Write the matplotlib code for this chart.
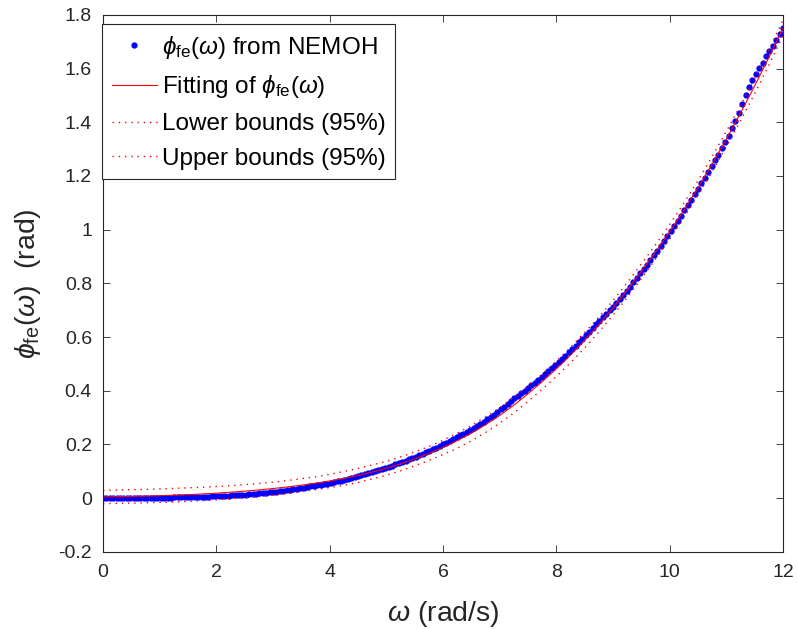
import numpy as np
import matplotlib
matplotlib.use("Agg")
import matplotlib.pyplot as plt

plt.rcParams['font.family'] = ['Liberation Sans', 'DejaVu Sans']
plt.rcParams['mathtext.fontset'] = 'custom'
plt.rcParams['mathtext.rm'] = 'Liberation Sans'
plt.rcParams['mathtext.it'] = 'Liberation Sans:italic'
plt.rcParams['mathtext.bf'] = 'Liberation Sans:bold'

# NEMOH frequency grid (rad/s) and excitation phase (rad)
omega = np.linspace(0, 12, 201)
phi_nemoh = [
    0.000, 0.000, 0.000, 0.000, 0.000, 0.000, 0.000, 0.000, 0.000, 0.000,
    0.000, 0.000, 0.000, 0.000, 0.000, 0.001, 0.001, 0.001, 0.001, 0.001,
    0.001, 0.002, 0.002, 0.002, 0.002, 0.003, 0.003, 0.003, 0.004, 0.004,
    0.005, 0.005, 0.006, 0.006, 0.007, 0.007, 0.008, 0.009, 0.010, 0.010,
    0.011, 0.012, 0.013, 0.014, 0.015, 0.016, 0.018, 0.019, 0.020, 0.021,
    0.023, 0.024, 0.026, 0.027, 0.029, 0.031, 0.033, 0.034, 0.036, 0.038,
    0.040, 0.043, 0.045, 0.047, 0.049, 0.052, 0.054, 0.057, 0.060, 0.063,
    0.065, 0.068, 0.072, 0.075, 0.078, 0.081, 0.085, 0.088, 0.092, 0.096,
    0.099, 0.103, 0.107, 0.112, 0.116, 0.120, 0.125, 0.129, 0.134, 0.139,
    0.144, 0.149, 0.154, 0.159, 0.165, 0.170, 0.176, 0.182, 0.188, 0.194,
    0.200, 0.206, 0.213, 0.219, 0.226, 0.233, 0.240, 0.247, 0.254, 0.262,
    0.269, 0.277, 0.285, 0.293, 0.302, 0.311, 0.320, 0.330, 0.340, 0.350,
    0.360, 0.371, 0.381, 0.390, 0.400, 0.410, 0.420, 0.430, 0.441, 0.452,
    0.462, 0.473, 0.485, 0.496, 0.508, 0.519, 0.531, 0.543, 0.556, 0.568,
    0.581, 0.594, 0.607, 0.620, 0.634, 0.648, 0.659, 0.673, 0.687, 0.699,
    0.713, 0.726, 0.741, 0.757, 0.772, 0.788, 0.804, 0.820, 0.837, 0.854,
    0.870, 0.888, 0.905, 0.922, 0.940, 0.958, 0.977, 0.995, 1.014, 1.033,
    1.052, 1.072, 1.091, 1.111, 1.132, 1.152, 1.173, 1.194, 1.215, 1.237,
    1.258, 1.280, 1.303, 1.325, 1.350, 1.378, 1.406, 1.436, 1.468, 1.502,
    1.532, 1.558, 1.580, 1.601, 1.622, 1.646, 1.664, 1.684, 1.706, 1.728,
    1.752,
]

# fitted curve and 95% bounds, sampled every 0.25 rad/s
omega_fit = np.linspace(0, 12, 49)
phi_fit = [
    0.0040, 0.0050, 0.0060, 0.0072, 0.0087, 0.0105, 0.0126, 0.0151, 0.0181,
    0.0216, 0.0256, 0.0302, 0.0354, 0.0413, 0.0479, 0.0553, 0.0635, 0.0730,
    0.0840, 0.0966, 0.1110, 0.1273, 0.1456, 0.1660, 0.1885, 0.2135, 0.2415,
    0.2730, 0.3075, 0.3460, 0.3885, 0.4335, 0.4815, 0.5330, 0.5880, 0.6465,
    0.7085, 0.7745, 0.8445, 0.9170, 0.9920, 1.0720, 1.1560, 1.2445, 1.3375,
    1.4345, 1.5360, 1.6415, 1.7515,
]
phi_lower = [
    -0.021, -0.020, -0.019, -0.018, -0.016, -0.015, -0.012, -0.010, -0.007,
    -0.002, 0.002, 0.006, 0.011, 0.017, 0.024, 0.031, 0.039, 0.047,
    0.058, 0.071, 0.085, 0.101, 0.120, 0.140, 0.162, 0.185, 0.213,
    0.244, 0.279, 0.317, 0.360, 0.405, 0.453, 0.504, 0.559, 0.619,
    0.681, 0.747, 0.817, 0.890, 0.965, 1.045, 1.129, 1.216, 1.309,
    1.406, 1.507, 1.613, 1.723,
]
phi_upper = [
    0.029, 0.030, 0.031, 0.032, 0.034, 0.036, 0.038, 0.040, 0.043,
    0.046, 0.050, 0.054, 0.059, 0.065, 0.072, 0.079, 0.088, 0.099,
    0.110, 0.123, 0.137, 0.153, 0.172, 0.192, 0.215, 0.242, 0.270,
    0.302, 0.336, 0.375, 0.417, 0.462, 0.510, 0.562, 0.617, 0.674,
    0.736, 0.802, 0.872, 0.944, 1.019, 1.099, 1.183, 1.273, 1.366,
    1.463, 1.565, 1.670, 1.780,
]

xticks = [0, 2, 4, 6, 8, 10, 12]
yticks = [-0.2, 0, 0.2, 0.4, 0.6, 0.8, 1, 1.2, 1.4, 1.6, 1.8]
ytick_labels = ['-0.2', '0', '0.2', '0.4', '0.6', '0.8', '1', '1.2', '1.4', '1.6', '1.8']

grey = '#262626'

fig = plt.figure(figsize=(7.98, 6.29), dpi=100)
ax = fig.add_axes([0.1291, 0.1229, 0.8521, 0.8533])

ax.plot(omega, phi_nemoh, '.', color='blue', ms=7,
        label=r'$\phi_{\rm fe}(\omega)$ from NEMOH')
ax.plot(omega_fit, phi_fit, '-', color='red', lw=0.8,
        label=r'Fitting of $\phi_{\rm fe}(\omega)$')
ax.plot(omega_fit, phi_lower, color='red', lw=1.0, ls=(0, (1, 3.5)),
        label='Lower bounds (95%)')
ax.plot(omega_fit, phi_upper, color='red', lw=1.0, ls=(0, (1, 3.5)),
        label='Upper bounds (95%)')

ax.set_xlim(0, 12)
ax.set_ylim(-0.2, 1.8)
ax.set_xticks(xticks)
ax.set_xticklabels([str(t) for t in xticks])
ax.set_yticks(yticks)
ax.set_yticklabels(ytick_labels)
ax.tick_params(direction='in', length=4.8, width=0.6, top=True, right=True,
               labelsize=14, colors=grey)
ax.tick_params(axis='y', pad=8)
ax.tick_params(axis='x', pad=9)
for s in ax.spines.values():
    s.set_color(grey)
    s.set_linewidth(0.8)

ax.set_xlabel(r'$\omega$ (rad/s)', fontsize=20.5, color=grey, labelpad=13)
ax.set_ylabel(r'$\phi_{\rm fe}(\omega)$  (rad)', fontsize=20.5, color=grey, labelpad=11)

leg = ax.legend(loc='upper left', bbox_to_anchor=(102 / 798, 1 - 24 / 629),
                bbox_transform=fig.transFigure, borderaxespad=0, fontsize=17.5,
                numpoints=1, handlelength=1.85, handletextpad=0.2,
                borderpad=0.4, labelspacing=0.52, fancybox=False,
                framealpha=1, edgecolor=grey)
leg.get_frame().set_linewidth(0.8)

fig.savefig('out.png', dpi=100)
